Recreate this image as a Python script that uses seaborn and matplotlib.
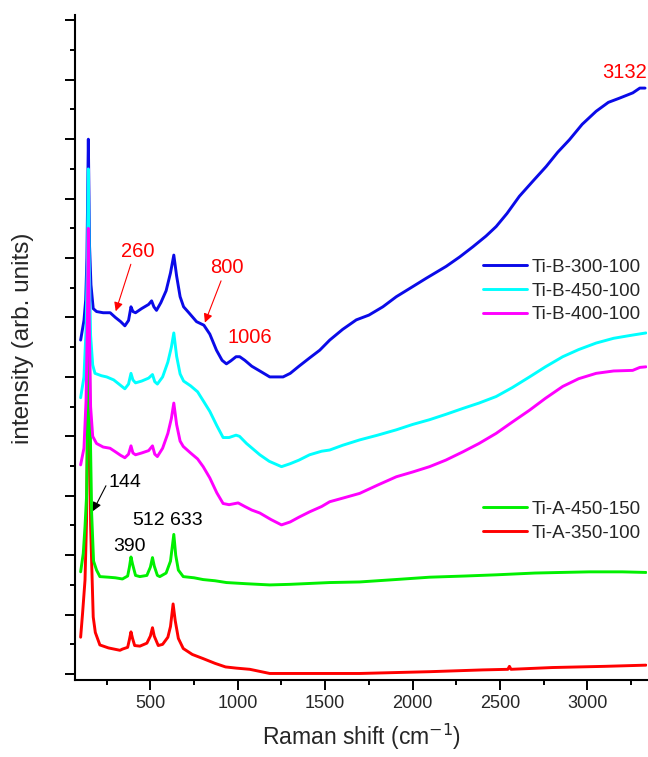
import numpy as np
import pandas as pd
import seaborn as sns
import matplotlib
matplotlib.use("Agg")
import matplotlib.pyplot as plt
from matplotlib.ticker import MultipleLocator
from matplotlib.lines import Line2D

# ---------------- data (arbitrary intensity units) ----------------
b300_x = [101, 120, 130, 137, 145, 152, 160, 173, 192, 230, 270, 300, 330, 354, 375, 389, 400, 415,
          450, 490, 507, 520, 535, 560, 590, 615, 634, 650, 670, 690, 720, 764, 806, 840, 878, 910,
          935, 960, 990, 1011, 1040, 1080, 1126, 1183, 1259, 1300, 1350, 1411, 1469, 1526, 1600,
          1678, 1750, 1830, 1907, 1990, 2078, 2192, 2270, 2345, 2420, 2478, 2540, 2611, 2690, 2764,
          2830, 2897, 2970, 3050, 3120, 3183, 3260, 3300, 3330]
b300_y = [5.62, 5.95, 6.30, 7.00, 9.00, 7.20, 6.55, 6.15, 6.10, 6.08, 6.08, 6.00, 5.93, 5.86, 5.95,
          6.18, 6.10, 6.08, 6.15, 6.22, 6.28, 6.18, 6.12, 6.25, 6.45, 6.75, 7.05, 6.70, 6.35, 6.18,
          6.08, 5.93, 5.87, 5.72, 5.45, 5.28, 5.22, 5.27, 5.34, 5.34, 5.28, 5.18, 5.10, 5.00, 5.00,
          5.06, 5.18, 5.32, 5.45, 5.62, 5.80, 5.96, 6.04, 6.18, 6.35, 6.50, 6.66, 6.86, 7.02, 7.19,
          7.37, 7.53, 7.75, 8.04, 8.30, 8.54, 8.78, 8.99, 9.25, 9.47, 9.62, 9.69, 9.78, 9.86, 9.86]

b450_x = [101, 120, 132, 140, 145, 150, 158, 170, 183, 220, 250, 290, 320, 354, 375, 389, 400, 415,
          450, 490, 512, 525, 540, 570, 600, 620, 634, 650, 670, 690, 730, 770, 802, 840, 880, 916,
          950, 990, 1010, 1050, 1090, 1126, 1180, 1250, 1300, 1350, 1411, 1480, 1526, 1600, 1697,
          1800, 1907, 2000, 2097, 2190, 2288, 2380, 2478, 2570, 2669, 2760, 2859, 2950, 3050, 3150,
          3250, 3335]
b450_y = [4.65, 5.00, 5.80, 7.00, 8.50, 7.00, 5.70, 5.20, 5.06, 5.02, 5.00, 4.95, 4.88, 4.80, 4.88,
          5.06, 4.95, 4.90, 4.93, 4.98, 5.04, 4.92, 4.88, 5.00, 5.25, 5.50, 5.74, 5.35, 5.05, 4.93,
          4.85, 4.75, 4.60, 4.42, 4.18, 3.98, 3.98, 4.02, 4.00, 3.88, 3.78, 3.69, 3.58, 3.49, 3.54,
          3.60, 3.69, 3.75, 3.77, 3.85, 3.94, 4.02, 4.11, 4.20, 4.28, 4.37, 4.47, 4.56, 4.67, 4.82,
          5.00, 5.17, 5.34, 5.46, 5.57, 5.65, 5.70, 5.74]

b400_x = [101, 120, 132, 140, 145, 150, 158, 170, 192, 230, 269, 300, 330, 354, 375, 389, 400, 415,
          450, 490, 512, 525, 540, 570, 600, 620, 634, 650, 670, 688, 730, 770, 802, 840, 880, 916,
          950, 1002, 1040, 1080, 1126, 1190, 1250, 1300, 1350, 1411, 1480, 1526, 1600, 1697, 1800,
          1907, 2000, 2097, 2190, 2288, 2380, 2478, 2570, 2669, 2760, 2859, 2950, 3050, 3150, 3259,
          3300, 3335]
b400_y = [3.52, 3.80, 4.60, 6.00, 7.50, 6.00, 4.50, 4.00, 3.88, 3.82, 3.80, 3.74, 3.68, 3.64, 3.70,
          3.84, 3.72, 3.69, 3.72, 3.76, 3.84, 3.70, 3.66, 3.80, 4.05, 4.30, 4.56, 4.20, 3.92, 3.83,
          3.72, 3.62, 3.49, 3.30, 3.05, 2.87, 2.85, 2.88, 2.82, 2.76, 2.71, 2.60, 2.51, 2.56, 2.64,
          2.73, 2.82, 2.90, 2.96, 3.04, 3.18, 3.32, 3.40, 3.49, 3.60, 3.74, 3.88, 4.05, 4.24, 4.44,
          4.64, 4.84, 4.97, 5.06, 5.10, 5.11, 5.16, 5.17]

a450_x = [101, 116, 126, 135, 142, 148, 154, 164, 175, 192, 211, 260, 300, 340, 370, 380, 389, 398,
          415, 440, 480, 500, 512, 522, 540, 554, 590, 615, 634, 645, 660, 688, 750, 802, 870, 935,
          1050, 1183, 1300, 1526, 1697, 1900, 2097, 2300, 2478, 2700, 2850, 3011, 3200, 3335]
a450_y = [1.72, 2.03, 2.48, 3.00, 4.50, 7.00, 4.50, 2.70, 1.90, 1.75, 1.64, 1.63, 1.62, 1.60, 1.65,
          1.80, 1.97, 1.85, 1.66, 1.64, 1.66, 1.80, 1.96, 1.82, 1.66, 1.64, 1.70, 1.90, 2.35, 2.00,
          1.75, 1.64, 1.62, 1.59, 1.57, 1.54, 1.52, 1.50, 1.51, 1.54, 1.55, 1.59, 1.63, 1.65, 1.67,
          1.70, 1.71, 1.72, 1.72, 1.71]

a350_x = [101, 112, 126, 135, 141, 146, 151, 158, 173, 185, 211, 260, 326, 340, 370, 380, 389, 398,
          410, 440, 480, 500, 512, 522, 545, 570, 600, 615, 630, 642, 660, 688, 740, 802, 870, 930,
          992, 1069, 1183, 1400, 1697, 2097, 2400, 2545, 2554, 2563, 2800, 3100, 3335]
a350_y = [0.62, 1.02, 1.58, 2.60, 4.50, 6.20, 4.50, 2.50, 0.96, 0.70, 0.49, 0.44, 0.40, 0.42, 0.45,
          0.58, 0.71, 0.60, 0.48, 0.47, 0.52, 0.64, 0.78, 0.64, 0.48, 0.50, 0.62, 0.80, 1.18, 0.90,
          0.60, 0.43, 0.33, 0.26, 0.18, 0.12, 0.10, 0.08, 0.01, 0.01, 0.01, 0.04, 0.07, 0.08, 0.13,
          0.08, 0.11, 0.13, 0.15]

series_names = ["Ti-B-300-100", "Ti-B-450-100", "Ti-B-400-100", "Ti-A-450-150", "Ti-A-350-100"]
series_colors = ["#0a0ae8", "#00ffff", "#ff00ff", "#00f000", "#ff0000"]
draw_order = ["Ti-A-350-100", "Ti-A-450-150", "Ti-B-300-100", "Ti-B-450-100", "Ti-B-400-100"]

peak_labels_black = ["144", "390", "512", "633"]
peak_labels_red = ["260", "800", "1006", "3132"]

# ---------------- build table ----------------
xs = [b300_x, b450_x, b400_x, a450_x, a350_x]
ys = [b300_y, b450_y, b400_y, a450_y, a350_y]
frames = []
for name, x, y in zip(series_names, xs, ys):
    frames.append(pd.DataFrame({"shift": x, "intensity": y, "sample": name}))
df = pd.concat(frames, ignore_index=True)
palette = dict(zip(series_names, series_colors))

# ---------------- style ----------------
sns.set_style("ticks")
plt.rcParams["font.family"] = ["Liberation Sans", "DejaVu Sans"]
plt.rcParams["mathtext.fontset"] = "custom"
plt.rcParams["mathtext.rm"] = "Liberation Sans"
plt.rcParams["mathtext.it"] = "Liberation Sans"
plt.rcParams["mathtext.bf"] = "Liberation Sans"

fig = plt.figure(figsize=(6.48, 7.57), dpi=100)
ax = fig.add_axes([0.1157, 0.1017, 0.8833, 0.8785])

sns.lineplot(data=df, x="shift", y="intensity", hue="sample", hue_order=draw_order,
             palette=palette, estimator=None, sort=False, linewidth=2.1, legend=False, ax=ax)

ax.set_xlim(68.6, 3343)
ax.set_ylim(-0.10, 11.09)

ax.xaxis.set_major_locator(MultipleLocator(500))
ax.xaxis.set_minor_locator(MultipleLocator(250))
ax.yaxis.set_major_locator(MultipleLocator(1))
ax.yaxis.set_minor_locator(MultipleLocator(0.5))
ax.tick_params(axis="y", which="both", labelleft=False)
ax.tick_params(which="major", direction="out", length=7, width=1.4, color="black",
               labelsize=13, pad=4)
ax.tick_params(which="minor", direction="out", length=3.5, width=1.4, color="black")
ax.xaxis.set_major_formatter(matplotlib.ticker.FuncFormatter(lambda v, p: f"{int(v)}"))

for s in ["top", "right"]:
    ax.spines[s].set_visible(False)
for s in ["left", "bottom"]:
    ax.spines[s].set_linewidth(1.5)
    ax.spines[s].set_color("black")

ax.set_xlabel("Raman shift (cm$^{\\mathsf{-1}}$)", fontsize=16.5)
ax.set_ylabel("intensity (arb. units)", fontsize=17.5)
ax.xaxis.set_label_coords(0.5, -0.063)
ax.yaxis.set_label_coords(-0.0716, 0.514)

# ---------------- legends ----------------
def handle(name):
    return Line2D([], [], color=palette[name], lw=2.1)


upper = series_names[:3]
lower = series_names[3:]
kw = dict(frameon=False, loc="upper left", borderaxespad=0, borderpad=0,
          handlelength=2.35, handletextpad=0.27, labelspacing=0.35,
          prop={"family": "Liberation Sans", "size": 13.5})
leg1 = ax.legend([handle(n) for n in upper], upper, bbox_to_anchor=(0.712, 0.6335), **kw)
ax.add_artist(leg1)
ax.legend([handle(n) for n in lower], lower, bbox_to_anchor=(0.712, 0.2695), **kw)

# ---------------- annotations ----------------
red = "#ff0000"
ax.text(427, 7.11, peak_labels_red[0], color=red, fontsize=14.5, ha="center", va="center")
ax.annotate("", xy=(297, 6.06), xytext=(393, 6.94),
            arrowprops=dict(arrowstyle="-|>", color=red, lw=0.8, mutation_scale=13))
ax.text(935, 6.84, peak_labels_red[1], color=red, fontsize=14.5, ha="center", va="center")
ax.annotate("", xy=(806, 5.87), xytext=(910, 6.66),
            arrowprops=dict(arrowstyle="-|>", color=red, lw=0.8, mutation_scale=13))
ax.text(1069, 5.66, peak_labels_red[2], color=red, fontsize=14.5, ha="center", va="center")
ax.text(3211, 10.13, peak_labels_red[3], color=red, fontsize=14.5, ha="center", va="center")

ax.text(354, 3.22, peak_labels_black[0], color="black", fontsize=14, ha="center", va="center")
ax.annotate("", xy=(164, 2.70), xytext=(253, 3.21),
            arrowprops=dict(arrowstyle="-|>", color="black", lw=0.8, mutation_scale=13))
ax.text(379, 2.14, peak_labels_black[1], color="black", fontsize=14, ha="center", va="center")
ax.text(488, 2.59, peak_labels_black[2], color="black", fontsize=14, ha="center", va="center")
ax.text(707, 2.58, peak_labels_black[3], color="black", fontsize=14, ha="center", va="center")

fig.savefig("out.png", dpi=100)
